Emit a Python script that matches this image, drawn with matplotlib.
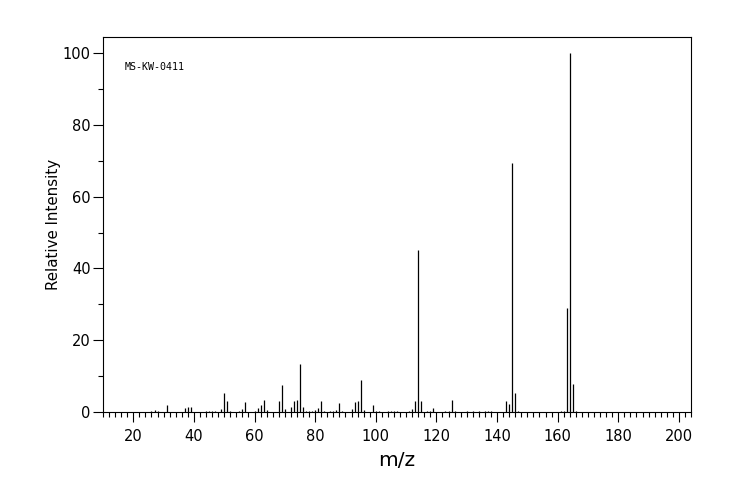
import matplotlib
matplotlib.use('Agg')
import matplotlib.pyplot as plt
from matplotlib.ticker import MultipleLocator

# peak list (m/z, relative intensity)
mz = [26, 27, 28, 31, 37, 38, 39,
      44, 45, 46, 47, 49, 50, 51, 52, 55, 56, 57,
      60, 61, 62, 63, 64, 68, 69, 70, 72, 73, 74, 75, 76, 77, 78, 79,
      80, 81, 82, 83, 85, 86, 87, 88, 89, 92, 93, 94, 95, 96, 99,
      100, 101, 104, 105, 106, 107, 111, 112, 113, 114, 115, 117, 118, 119,
      123, 124, 125, 126, 130, 132, 134, 136, 137, 138,
      143, 144, 145, 146, 147, 161, 162, 163, 164, 165, 166]
intensity = [0.4, 0.65, 0.4, 1.95, 1.2, 1.4, 1.4,
             0.3, 0.3, 0.3, 0.3, 0.85, 5.3, 3.1, 0.3, 0.3, 0.85, 2.8,
             0.3, 1.1, 1.95, 3.3, 0.55, 3.1, 7.5, 0.85, 1.4, 3.1, 3.3, 13.4, 1.4, 0.3, 0.3, 0.3,
             0.55, 1.1, 3.1, 0.3, 0.3, 0.3, 0.55, 2.5, 0.3, 0.85, 2.8, 3.1, 8.9, 0.55, 1.95,
             0.3, 0.3, 0.3, 0.3, 0.3, 0.3, 0.3, 0.85, 3.1, 45.1, 3.1, 0.3, 0.3, 1.1,
             0.3, 0.3, 3.3, 0.3, 0.3, 0.3, 0.3, 0.3, 0.3, 0.3,
             3.1, 2.2, 69.5, 5.3, 0.3, 0.3, 0.3, 29.0, 100.0, 7.8, 0.3]

fig = plt.figure(figsize=(7.44, 5.0), dpi=100)
ax = fig.add_axes([0.1384, 0.176, 0.7904, 0.75])

ax.vlines(mz, 0, intensity, color='black', linewidth=0.9)

ax.set_xlim(10, 204)
ax.set_ylim(0, 104.5)
ax.xaxis.set_major_locator(MultipleLocator(20))
ax.xaxis.set_minor_locator(MultipleLocator(2))
ax.yaxis.set_major_locator(MultipleLocator(20))
ax.yaxis.set_minor_locator(MultipleLocator(10))
ax.tick_params(which='major', direction='out', length=7, width=0.8, labelsize=10.5)
ax.tick_params(axis='x', which='major', pad=5)
ax.tick_params(axis='y', which='major', pad=2)
ax.tick_params(which='minor', direction='out', length=3.6, width=0.8)
for sp in ax.spines.values():
    sp.set_linewidth(0.8)

ax.set_xlabel("m/z", fontsize=14.5, labelpad=5)
ax.set_ylabel("Relative Intensity", fontsize=10.8, labelpad=1)
ax.text(0.037, 0.92, "MS-KW-0411", transform=ax.transAxes,
        fontsize=7.2, family='DejaVu Sans Mono', va='center')

fig.savefig('out.png', dpi=100)
